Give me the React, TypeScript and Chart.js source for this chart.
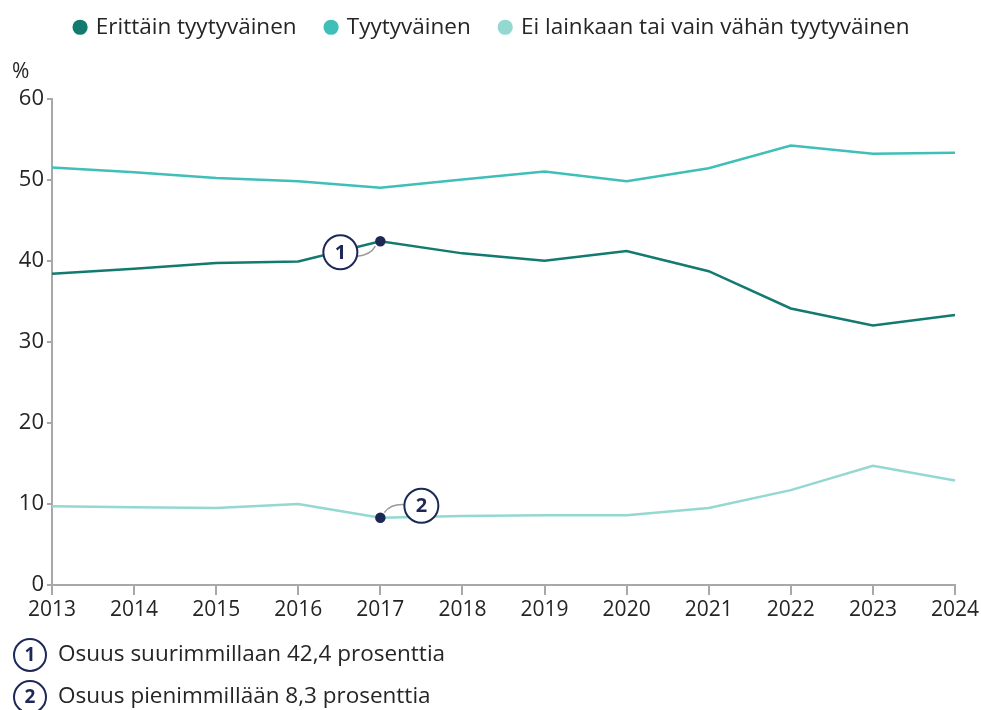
import React, { useEffect, useRef } from "react";
import { Chart, registerables } from "chart.js";
Chart.register(...registerables);

const years = ["2013","2014","2015","2016","2017","2018","2019","2020","2021","2022","2023","2024"];
const erittain = [38.4, 39.0, 39.7, 39.9, 42.4, 40.9, 40.0, 41.2, 38.7, 34.1, 32.0, 33.3];
const tyytyvainen = [51.5, 50.9, 50.2, 49.8, 49.0, 50.0, 51.0, 49.8, 51.4, 54.2, 53.2, 53.3];
const eiLainkaan = [9.7, 9.6, 9.5, 10.0, 8.3, 8.5, 8.6, 8.6, 9.5, 11.7, 14.7, 12.9];
const seriesNames = ["Erittäin tyytyväinen", "Tyytyväinen", "Ei lainkaan tai vain vähän tyytyväinen"];
const seriesColors = ["#127a6f", "#3fbfb7", "#94d8d2"];
const footnotes = ["Osuus suurimmillaan 42,4 prosenttia", "Osuus pienimmillään 8,3 prosenttia"];
const yTicks = [0, 10, 20, 30, 40, 50, 60];

const NAVY = "#1d2857";
const TEXT = "#252525";
const AXIS = "#a8a8a8";
const FONT = "'Open Sans', 'Noto Sans', sans-serif";

function markedRadius(idx: number) {
  return years.map((_, i) => (i === idx ? 4 : 0));
}
function markedColor(idx: number, base: string) {
  return years.map((_, i) => (i === idx ? NAVY : base));
}

const legendSpacer = {
  id: "legendSpacer",
  beforeInit(chart: any) {
    const origFit = chart.legend.fit;
    chart.legend.fit = function () {
      origFit.bind(chart.legend)();
      this.height += 36;
    };
  },
  afterLayout(chart: any) {
    chart.legend.top -= 14;
    chart.legend.left += 15;
    chart.legend.right += 15;
  },
};

const annotationPlugin = {
  id: "annot",
  afterDatasetsDraw(chart: any) {
    const ctx = chart.ctx;
    const xs = chart.scales.x;
    const ys = chart.scales.y;
    const drawBadge = (cx: number, cy: number, r: number, label: string) => {
      ctx.save();
      ctx.beginPath();
      ctx.arc(cx, cy, r, 0, Math.PI * 2);
      ctx.fillStyle = "#ffffff";
      ctx.fill();
      ctx.lineWidth = 2;
      ctx.strokeStyle = NAVY;
      ctx.stroke();
      ctx.fillStyle = NAVY;
      ctx.font = `bold 20px ${FONT}`;
      ctx.textAlign = "center";
      ctx.textBaseline = "middle";
      ctx.fillText(label, cx, cy + 1);
      ctx.restore();
    };
    const i1 = erittain.indexOf(Math.max(...erittain));
    const p1x = xs.getPixelForValue(i1);
    const p1y = ys.getPixelForValue(erittain[i1]);
    ctx.save();
    ctx.strokeStyle = "#9a9a9a";
    ctx.lineWidth = 1.5;
    ctx.beginPath();
    ctx.moveTo(p1x - 23, p1y + 15);
    ctx.quadraticCurveTo(p1x - 10, p1y + 14, p1x - 5, p1y + 5);
    ctx.stroke();
    ctx.restore();
    drawBadge(p1x - 40, p1y + 11, 17, "1");
    const i2 = eiLainkaan.indexOf(Math.min(...eiLainkaan));
    const p2x = xs.getPixelForValue(i2);
    const p2y = ys.getPixelForValue(eiLainkaan[i2]);
    ctx.save();
    ctx.strokeStyle = "#9a9a9a";
    ctx.lineWidth = 1.5;
    ctx.beginPath();
    ctx.moveTo(p2x + 4, p2y - 5);
    ctx.quadraticCurveTo(p2x + 10, p2y - 14, p2x + 25, p2y - 13);
    ctx.stroke();
    ctx.restore();
    drawBadge(p2x + 41, p2y - 12, 17, "2");
  },
  afterDraw(chart: any) {
    const ctx = chart.ctx;
    ctx.save();
    ctx.fillStyle = TEXT;
    ctx.font = `21px ${FONT}`;
    ctx.textBaseline = "middle";
    ctx.textAlign = "left";
    ctx.fillText("%", 12, 72);
    footnotes.forEach((t, i) => {
      const cy = 655 + i * 42;
      ctx.beginPath();
      ctx.arc(30, cy, 16, 0, Math.PI * 2);
      ctx.fillStyle = "#ffffff";
      ctx.fill();
      ctx.lineWidth = 2;
      ctx.strokeStyle = NAVY;
      ctx.stroke();
      ctx.fillStyle = NAVY;
      ctx.font = `bold 19px ${FONT}`;
      ctx.textAlign = "center";
      ctx.fillText(String(i + 1), 30, cy + 1);
      ctx.fillStyle = TEXT;
      ctx.font = `22.5px ${FONT}`;
      ctx.textAlign = "left";
      ctx.fillText(t, 58, cy);
    });
    ctx.restore();
  },
};

export default function App() {
  const ref = useRef<HTMLCanvasElement | null>(null);
  useEffect(() => {
    if (!ref.current) return;
    const chart = new Chart(ref.current, {
      type: "line",
      data: {
        labels: years,
        datasets: [
          {
            label: seriesNames[0],
            data: erittain,
            borderColor: seriesColors[0],
            backgroundColor: seriesColors[0],
            borderWidth: 2.5,
            pointRadius: markedRadius(4),
            pointBackgroundColor: markedColor(4, seriesColors[0]),
            pointBorderColor: markedColor(4, seriesColors[0]),
            tension: 0,
          },
          {
            label: seriesNames[1],
            data: tyytyvainen,
            borderColor: seriesColors[1],
            backgroundColor: seriesColors[1],
            borderWidth: 2.5,
            pointRadius: 0,
            tension: 0,
          },
          {
            label: seriesNames[2],
            data: eiLainkaan,
            borderColor: seriesColors[2],
            backgroundColor: seriesColors[2],
            borderWidth: 2.5,
            pointRadius: markedRadius(4),
            pointBackgroundColor: markedColor(4, seriesColors[2]),
            pointBorderColor: markedColor(4, seriesColors[2]),
            tension: 0,
          },
        ],
      },
      options: {
        animation: false,
        responsive: false,
        layout: { padding: { left: 0, right: 26, top: 0, bottom: 85 } },
        plugins: {
          legend: {
            display: true,
            position: "top",
            align: "center",
            labels: {
              usePointStyle: true,
              pointStyle: "circle",
              boxWidth: 9,
              boxHeight: 9,
              padding: 30,
              color: TEXT,
              font: { family: FONT, size: 22.5 },
            },
          },
          tooltip: { enabled: false },
        },
        scales: {
          x: {
            type: "category",
            offset: false,
            grid: { drawOnChartArea: false, drawTicks: true, tickLength: 10, color: AXIS, lineWidth: 2 },
            border: { color: AXIS, width: 2 },
            ticks: { color: TEXT, font: { family: FONT, size: 21 }, padding: 2, maxRotation: 0, autoSkip: false },
            afterFit: (s: any) => { s.height = 40; },
          },
          y: {
            min: 0,
            max: 60,
            afterBuildTicks: (s: any) => { s.ticks = yTicks.map((v) => ({ value: v })); },
            grid: { drawOnChartArea: false, drawTicks: true, tickLength: 5, color: AXIS, lineWidth: 2 },
            border: { color: AXIS, width: 2 },
            ticks: { color: TEXT, font: { family: FONT, size: 22 }, padding: 3 },
            afterFit: (s: any) => { s.width = 52; },
          },
        },
      },
      plugins: [legendSpacer, annotationPlugin],
    });
    return () => chart.destroy();
  }, []);
  return (
    <div style={{ position: "fixed", left: 0, top: 0, width: 981, height: 710, background: "#fff" }}>
      <canvas ref={ref} width={981} height={710} style={{ width: 981, height: 710 }} />
    </div>
  );
}
